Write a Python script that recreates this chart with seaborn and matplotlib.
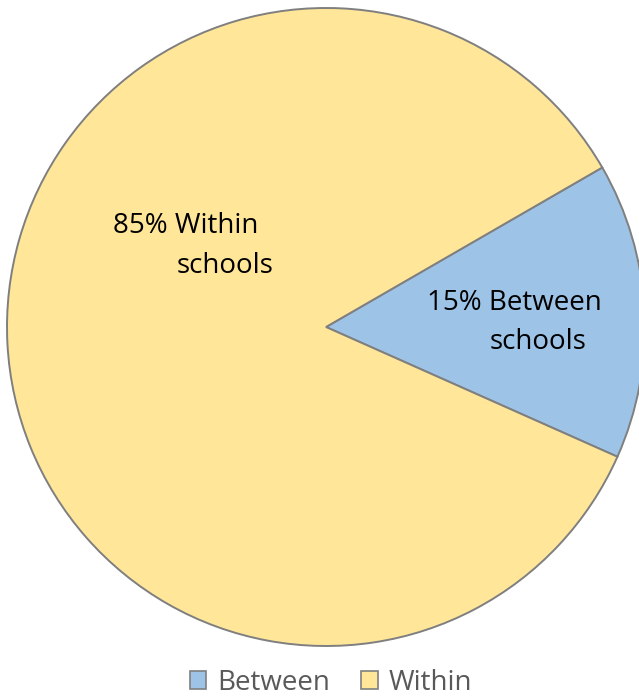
import matplotlib
matplotlib.use("Agg")
import matplotlib.pyplot as plt
import seaborn as sns
from matplotlib.patches import Patch

sns.set_theme(style="white")
plt.rcParams['font.family'] = ['Open Sans', 'DejaVu Sans']

categories = ["Between", "Within"]
values = [15, 85]
label_lines = [["15% Between", "schools"], ["85% Within", "schools"]]
colors = ["#9DC3E6", "#FFE699"]
edge = "#7F7F7F"

W, H = 639, 697
fig = plt.figure(figsize=(W / 100, H / 100), dpi=100)
cx, cy, r = 326, 327, 319
ax = fig.add_axes([(cx - r) / W, (H - cy - r) / H, 2 * r / W, 2 * r / H])
ax.pie(values, colors=colors, startangle=-24, counterclock=True,
       wedgeprops=dict(edgecolor=edge, linewidth=1.4))
ax.set_xlim(-1, 1)
ax.set_ylim(-1, 1)
ax.set_aspect('equal')
ax.axis('off')

def px(x, y):
    return (x - cx) / r, (cy - y) / r

fs = 20
# Between label
ax.text(*px(427, 303), label_lines[0][0], fontsize=fs, color="black", va="center", ha="left")
ax.text(*px(490, 342), label_lines[0][1], fontsize=fs, color="black", va="center", ha="left")
# Within label
ax.text(*px(113, 226), label_lines[1][0], fontsize=fs, color="black", va="center", ha="left")
ax.text(*px(177, 266), label_lines[1][1], fontsize=fs, color="black", va="center", ha="left")

handles = [Patch(facecolor=c, edgecolor=edge, linewidth=1.2) for c in colors]
fig.legend(handles, categories, loc="center", bbox_to_anchor=(331 / W, 1 - 683 / H),
           ncol=2, frameon=False, fontsize=fs, labelcolor="#595959",
           handlelength=0.6, handleheight=0.6, handletextpad=0.4, columnspacing=1.1)

fig.savefig("out.png", dpi=100)
